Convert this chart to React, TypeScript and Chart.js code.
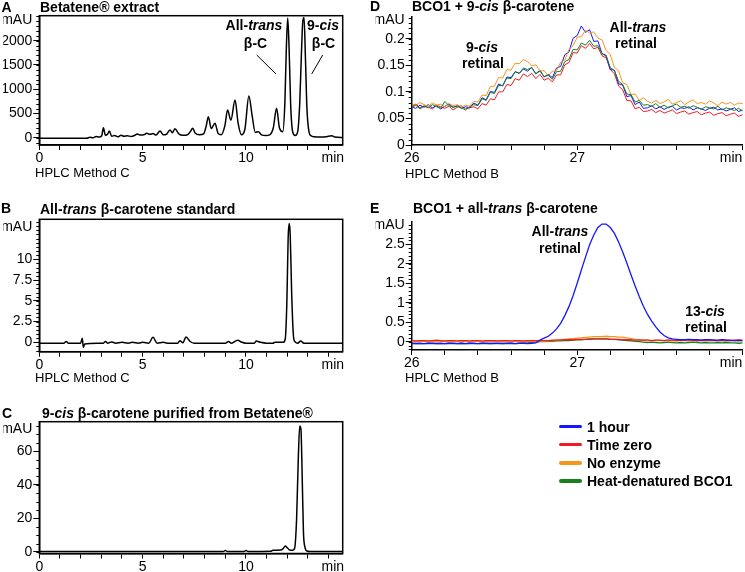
import React, { useEffect, useRef } from 'react';
import { Chart, registerables } from 'chart.js';

Chart.register(...registerables);

const FONT = 'Arial, "Liberation Sans", Helvetica, sans-serif';
const W = 745;
const H = 572;

// ---------- Panel A: Betatene extract (HPLC method C) ----------
const aTime = [
  0, 2.3, 2.45, 2.6, 2.75, 2.9, 3.02, 3.1, 3.2, 3.3,
  3.39, 3.5, 3.65, 3.8, 3.95, 4.1, 4.25, 4.45, 4.6, 4.74,
  4.9, 5.05, 5.2, 5.35, 5.5, 5.65, 5.84, 6.0, 6.15, 6.32,
  6.44, 6.56, 6.75, 6.95, 7.15, 7.3, 7.42, 7.55, 7.75, 7.95,
  8.08, 8.18, 8.32, 8.5, 8.65, 8.8, 8.98, 9.11, 9.27, 9.47,
  9.62, 9.78, 9.95, 10.14, 10.3, 10.45, 10.6, 10.75, 10.95, 11.15,
  11.32, 11.48, 11.62, 11.78, 11.88, 11.95, 12.02, 12.09, 12.16, 12.26,
  12.38, 12.5, 12.6, 12.68, 12.75, 12.81, 12.88, 12.95, 13.05, 13.15,
  13.3, 13.6, 13.9, 14.05, 14.15, 14.3, 14.7,
];
const aSignal = [
  -10, -10, 10, 0, 25, 15, 40, 206, 50, 70,
  138, 30, 45, 20, 50, 30, 40, 25, 45, 75,
  55, 60, 90, 70, 85, 55, 140, 60, 70, 160,
  100, 185, 80, 50, 55, 120, 194, 90, 60, 80,
  250, 433, 190, 297, 90, 60, 250, 571, 360, 777,
  300, 60, 180, 860, 450, 110, 124, 60, 45, 60,
  200, 606, 200, 124, 700, 1800, 2470, 1800, 700, 120,
  45, 120, 700, 1700, 2400, 2480, 1600, 600, 120, 40,
  20, 15, 20, 35, 42, 15, 5,
];

// ---------- Panel B: all-trans beta-carotene standard ----------
const bTime = [
  0, 1.2, 1.3, 1.4, 2.0, 2.08, 2.13, 2.2, 3.1, 3.2,
  3.3, 3.5, 3.7, 4.0, 4.3, 4.5, 4.8, 5.0, 5.3, 5.5,
  5.7, 6.0, 6.2, 6.7, 6.8, 6.95, 7.1, 7.3, 7.5, 9.0,
  9.15, 9.3, 9.6, 9.8, 10.0, 10.4, 10.5, 10.7, 11.0, 11.3,
  11.4, 11.8, 11.9, 11.98, 12.04, 12.09, 12.14, 12.21, 12.29, 12.36,
  12.5, 12.65, 12.8, 14.7,
];
const bSignal = [
  -0.1, -0.1, 0.1, -0.1, -0.1, 0.5, -0.6, -0.2, -0.1, 0.1,
  -0.1, 0.05, -0.1, 0.0, -0.1, 0.0, -0.1, 0.0, -0.1, 0.6,
  -0.1, 0.0, -0.1, -0.1, 0.2, -0.05, 0.65, 0.1, -0.1, -0.1,
  0.1, -0.1, 0.25, 0.0, -0.1, -0.1, 0.15, 0.0, -0.1, -0.1,
  0.0, 0.0, 0.4, 5.0, 12.5, 14.3, 13.0, 6.0, 1.0, 0.1,
  -0.1, 0.15, -0.1, -0.1,
];

// ---------- Panel C: 9-cis beta-carotene purified ----------
const cTime = [
  0, 8.9, 9.0, 9.1, 9.9, 10.0, 10.1, 11.2, 11.3, 11.7,
  11.8, 11.9, 12.0, 12.1, 12.25, 12.35, 12.45, 12.53, 12.6, 12.66,
  12.72, 12.78, 12.85, 12.95, 13.1, 14.7,
];
const cSignal = [
  0.3, 0.3, 0.9, 0.3, 0.3, 0.9, 0.3, 0.4, 1.0, 1.2,
  2.0, 3.5, 2.5, 1.3, 1.0, 2.0, 20, 55, 75, 73,
  45, 12, 3, 0.6, 0.3, 0.3,
];

// ---------- Panel D: BCO1 + 9-cis beta-carotene (HPLC method B) ----------
const dTime = [
  26, 26.025, 26.05, 26.075, 26.1, 26.125, 26.15, 26.175, 26.2, 26.225,
  26.25, 26.275, 26.3, 26.325, 26.35, 26.375, 26.4, 26.425, 26.45, 26.475,
  26.5, 26.525, 26.55, 26.575, 26.6, 26.625, 26.65, 26.675, 26.7, 26.725,
  26.75, 26.775, 26.8, 26.825, 26.85, 26.875, 26.9, 26.925, 26.95, 26.975,
  27, 27.025, 27.05, 27.075, 27.1, 27.125, 27.15, 27.175, 27.2, 27.225,
  27.25, 27.275, 27.3, 27.325, 27.35, 27.375, 27.4, 27.425, 27.45, 27.475,
  27.5, 27.525, 27.55, 27.575, 27.6, 27.625, 27.65, 27.675, 27.7, 27.725,
  27.75, 27.775, 27.8, 27.825, 27.85, 27.875, 27.9, 27.925, 27.95, 27.975,
  28,
];
const dOneHour = [
  0.072, 0.069, 0.075, 0.071, 0.076, 0.070, 0.074, 0.068, 0.073, 0.077,
  0.071, 0.074, 0.069, 0.072, 0.070, 0.079, 0.075, 0.089, 0.085, 0.101,
  0.099, 0.115, 0.111, 0.128, 0.127, 0.138, 0.135, 0.143, 0.139, 0.146,
  0.134, 0.141, 0.128, 0.133, 0.127, 0.145, 0.148, 0.170, 0.175, 0.201,
  0.206, 0.224, 0.212, 0.217, 0.195, 0.196, 0.172, 0.169, 0.142, 0.141,
  0.115, 0.113, 0.091, 0.093, 0.076, 0.081, 0.069, 0.070, 0.074, 0.068,
  0.072, 0.067, 0.071, 0.073, 0.066, 0.070, 0.069, 0.072, 0.066, 0.070,
  0.068, 0.065, 0.069, 0.071, 0.066, 0.068, 0.064, 0.067, 0.070, 0.063,
  0.066,
];
const dTimeZero = [
  0.073, 0.077, 0.070, 0.074, 0.071, 0.068, 0.075, 0.072, 0.069, 0.073,
  0.066, 0.071, 0.074, 0.068, 0.070, 0.072, 0.068, 0.078, 0.075, 0.087,
  0.085, 0.100, 0.100, 0.114, 0.112, 0.125, 0.122, 0.134, 0.129, 0.135,
  0.125, 0.133, 0.122, 0.126, 0.119, 0.132, 0.132, 0.151, 0.155, 0.174,
  0.173, 0.187, 0.182, 0.191, 0.181, 0.184, 0.168, 0.164, 0.142, 0.134,
  0.111, 0.104, 0.084, 0.083, 0.068, 0.071, 0.063, 0.064, 0.067, 0.061,
  0.065, 0.060, 0.063, 0.066, 0.059, 0.062, 0.064, 0.058, 0.061, 0.063,
  0.057, 0.060, 0.062, 0.056, 0.059, 0.061, 0.055, 0.058, 0.060, 0.054,
  0.057,
];
const dNoEnzyme = [
  0.078, 0.074, 0.080, 0.076, 0.073, 0.079, 0.075, 0.077, 0.072, 0.078,
  0.074, 0.076, 0.071, 0.075, 0.073, 0.082, 0.081, 0.094, 0.093, 0.110,
  0.111, 0.127, 0.126, 0.142, 0.141, 0.154, 0.153, 0.161, 0.157, 0.149,
  0.151, 0.139, 0.140, 0.130, 0.139, 0.140, 0.156, 0.160, 0.180, 0.187,
  0.203, 0.204, 0.216, 0.211, 0.213, 0.201, 0.198, 0.178, 0.170, 0.146,
  0.140, 0.117, 0.114, 0.095, 0.096, 0.084, 0.089, 0.082, 0.079, 0.084,
  0.078, 0.081, 0.086, 0.077, 0.080, 0.083, 0.076, 0.081, 0.085, 0.078,
  0.080, 0.077, 0.083, 0.079, 0.074, 0.081, 0.077, 0.080, 0.075, 0.079,
  0.078,
];
const dHeat = [
  0.071, 0.075, 0.068, 0.073, 0.070, 0.076, 0.072, 0.069, 0.082, 0.074,
  0.071, 0.073, 0.070, 0.066, 0.072, 0.076, 0.074, 0.087, 0.084, 0.099,
  0.097, 0.112, 0.112, 0.126, 0.125, 0.138, 0.135, 0.145, 0.142, 0.146,
  0.134, 0.139, 0.129, 0.131, 0.124, 0.138, 0.139, 0.157, 0.161, 0.180,
  0.179, 0.192, 0.188, 0.197, 0.186, 0.187, 0.172, 0.167, 0.146, 0.140,
  0.120, 0.114, 0.096, 0.095, 0.081, 0.084, 0.075, 0.076, 0.073, 0.078,
  0.071, 0.075, 0.070, 0.074, 0.077, 0.071, 0.073, 0.069, 0.074, 0.071,
  0.067, 0.072, 0.070, 0.068, 0.073, 0.066, 0.070, 0.068, 0.065, 0.069,
  0.064,
];

// ---------- Panel E: BCO1 + all-trans beta-carotene ----------
const eTime = dTime;
const eOneHour = [
  -0.04, -0.05, -0.04, -0.05, -0.04, -0.04, -0.05, -0.04, -0.05, -0.04,
  -0.04, -0.05, -0.04, -0.05, -0.04, -0.04, -0.05, -0.04, -0.04, -0.05,
  -0.04, -0.04, -0.05, -0.04, -0.04, -0.05, -0.04, -0.04, -0.05, -0.04,
  -0.03, 0.04, 0.09, 0.14, 0.22, 0.33, 0.47, 0.67, 0.90, 1.18,
  1.50, 1.84, 2.17, 2.49, 2.74, 2.93, 3.02, 3.02, 2.93, 2.78,
  2.56, 2.30, 2.02, 1.72, 1.43, 1.16, 0.91, 0.70, 0.53, 0.38,
  0.25, 0.16, 0.10, 0.07, 0.06, 0.05, 0.05, 0.06, 0.05, 0.05,
  0.04, 0.05, 0.05, 0.04, 0.04, 0.05, 0.04, 0.04, 0.03, 0.04,
  0.03,
];
const eTimeZero = [
  0.03, 0.02, 0.03, 0.03, 0.02, 0.03, 0.04, 0.03, 0.02, 0.03,
  0.03, 0.02, 0.03, 0.03, 0.02, 0.03, 0.03, 0.02, 0.03, 0.03,
  0.03, 0.02, 0.03, 0.03, 0.02, 0.03, 0.03, 0.02, 0.03, 0.03,
  0.03, 0.03, 0.03, 0.03, 0.04, 0.04, 0.04, 0.05, 0.05, 0.05,
  0.06, 0.06, 0.06, 0.07, 0.07, 0.07, 0.07, 0.07, 0.06, 0.06,
  0.06, 0.05, 0.05, 0.05, 0.04, 0.04, 0.04, 0.04, 0.03, 0.04,
  0.04, 0.03, 0.04, 0.04, 0.03, 0.04, 0.05, 0.04, 0.04, 0.03,
  0.04, 0.05, 0.04, 0.04, 0.03, 0.04, 0.04, 0.03, 0.04, 0.04,
  0.04,
];
const eNoEnzyme = [
  0.01, 0.00, 0.01, 0.01, 0.00, 0.01, 0.00, 0.01, 0.01, 0.00,
  0.01, 0.00, 0.01, 0.01, 0.00, 0.01, 0.01, 0.00, 0.01, 0.00,
  0.01, 0.01, 0.00, 0.01, 0.00, 0.01, 0.01, 0.00, 0.01, 0.01,
  0.00, 0.01, 0.01, 0.02, 0.03, 0.04, 0.05, 0.06, 0.07, 0.08,
  0.09, 0.10, 0.11, 0.12, 0.13, 0.13, 0.13, 0.14, 0.13, 0.13,
  0.12, 0.12, 0.10, 0.08, 0.06, 0.05, 0.04, 0.04, 0.03, 0.04,
  0.03, 0.03, 0.04, 0.03, 0.02, 0.03, 0.03, 0.02, 0.03, 0.02,
  0.03, 0.02, 0.02, 0.03, 0.02, 0.02, 0.01, 0.02, 0.02, 0.01,
  0.02,
];
const eHeat = [
  -0.05, -0.04, -0.05, -0.05, -0.04, -0.05, -0.04, -0.05, -0.05, -0.04,
  -0.05, -0.05, -0.04, -0.05, -0.04, -0.05, -0.05, -0.04, -0.05, -0.04,
  -0.05, -0.05, -0.04, -0.05, -0.04, -0.05, -0.04, -0.03, -0.03, -0.02,
  -0.01, 0.00, 0.00, 0.01, 0.01, 0.02, 0.02, 0.03, 0.03, 0.04,
  0.05, 0.05, 0.06, 0.06, 0.07, 0.07, 0.07, 0.07, 0.06, 0.06,
  0.05, 0.04, 0.03, 0.02, 0.01, 0.00, -0.01, -0.02, -0.01, -0.02,
  -0.03, -0.02, -0.01, -0.02, -0.03, -0.02, -0.03, -0.02, -0.01, -0.02,
  -0.03, -0.02, -0.03, -0.03, -0.02, -0.03, -0.02, -0.03, -0.03, -0.04,
  -0.03,
];

// ---------- Axis ticks ----------
const abcXTicks = [0, 1, 2, 3, 4, 5, 6, 7, 8, 9, 10, 11, 12, 13, 14];
const abcXLabeled = [0, 5, 10];
const deXTicks = [26, 26.2, 26.4, 26.6, 26.8, 27, 27.2, 27.4, 27.6, 27.8, 28];
const deXLabeled = [26, 27];

const aYTicks = [0, 500, 1000, 1500, 2000];
const aYLabels = ['0', '500', '1000', '1500', '2000'];
const bYTicks = [0, 2.5, 5, 7.5, 10];
const bYLabels = ['0', '2.5', '5', '7.5', '10'];
const cYTicks = [0, 20, 40, 60];
const cYLabels = ['0', '20', '40', '60'];
const dYTicks = [0, 0.05, 0.1, 0.15, 0.2];
const dYLabels = ['0', '0.05', '0.1', '0.15', '0.2'];
const eYTicks = [0, 0.5, 1, 1.5, 2, 2.5];
const eYLabels = ['0', '0.5', '1', '1.5', '2', '2.5'];

const COLORS = {
  oneHour: '#1616ff',
  timeZero: '#ee1c24',
  noEnzyme: '#f7941d',
  heat: '#18801c',
};

type Series = { x: number[]; y: number[]; color: string; width: number; smooth: boolean };
type Panel = {
  rect: [number, number, number, number];
  series: Series[];
  xMin: number; xMax: number; xTicks: number[]; xLabeled: number[]; xUnitPos: number;
  yMin: number; yMax: number; yTicks: number[]; yLabels: string[]; yUnitPos: number; yMinorStep: number;
  box: boolean;
};

const Y_AXIS_W = 36;
const X_AXIS_H = 20;
const near = (a: number, b: number) => Math.abs(a - b) < 1e-6;

const decorPlugin = {
  id: 'panelDecor',
  afterDraw(chart: any, _args: any, opts: any) {
    const { ctx, chartArea, scales } = chart;
    ctx.save();
    ctx.strokeStyle = '#000';
    ctx.lineWidth = 1;
    const y = scales.y;
    if (opts.yMinorStep) {
      const st = opts.yMinorStep;
      const s = Math.ceil(y.min / st - 1e-9);
      const e = Math.floor(y.max / st + 1e-9);
      for (let k = s; k <= e; k++) {
        const py = Math.round(y.getPixelForValue(k * st)) + 0.5;
        ctx.beginPath();
        ctx.moveTo(chartArea.left - 3, py);
        ctx.lineTo(chartArea.left, py);
        ctx.stroke();
      }
    }
    if (opts.box) {
      ctx.lineWidth = 1.5;
      ctx.strokeRect(chartArea.left, chartArea.top, chartArea.right - chartArea.left, chartArea.bottom - chartArea.top);
    }
    ctx.restore();
  },
};

function buildConfig(p: Panel): any {
  const [L, T, R, B] = p.rect;
  const tickFont = { family: FONT, size: 14 };
  return {
    type: 'line',
    data: {
      datasets: p.series.map((s) => ({
        data: s.x.map((t, i) => ({ x: t, y: s.y[i] })),
        borderColor: s.color,
        borderWidth: s.width,
        pointRadius: 0,
        fill: false,
        tension: 0,
        cubicInterpolationMode: s.smooth ? 'monotone' : 'default',
      })),
    },
    options: {
      responsive: false,
      animation: false,
      events: [],
      layout: { padding: { left: L - Y_AXIS_W, top: T, right: W - R, bottom: H - B - X_AXIS_H } },
      plugins: {
        legend: { display: false },
        tooltip: { enabled: false },
        panelDecor: { yMinorStep: p.yMinorStep, box: p.box },
      },
      scales: {
        x: {
          type: 'linear',
          min: p.xMin,
          max: p.xMax,
          afterBuildTicks: (s: any) => {
            s.ticks = [...p.xTicks, p.xUnitPos].map((v) => ({ value: v }));
          },
          afterFit: (s: any) => { s.height = X_AXIS_H; },
          ticks: {
            autoSkip: false,
            maxRotation: 0,
            padding: 0,
            color: '#000',
            font: tickFont,
            callback: (v: number) =>
              near(v, p.xUnitPos) ? 'min' : p.xLabeled.some((l) => near(l, v)) ? String(Math.round(v)) : '',
          },
          grid: {
            display: true,
            drawOnChartArea: false,
            drawTicks: true,
            tickLength: 5,
            tickWidth: 1,
            tickColor: (c: any) => (c.tick && near(c.tick.value, p.xUnitPos) ? 'rgba(0,0,0,0)' : '#000'),
          },
          border: { display: true, color: '#000', width: 1.5 },
        },
        y: {
          type: 'linear',
          min: p.yMin,
          max: p.yMax,
          afterBuildTicks: (s: any) => {
            s.ticks = [...p.yTicks, p.yUnitPos].map((v) => ({ value: v }));
          },
          afterFit: (s: any) => { s.width = Y_AXIS_W; },
          ticks: {
            autoSkip: false,
            padding: 1,
            color: '#000',
            font: tickFont,
            callback: (v: number) => {
              if (near(v, p.yUnitPos)) return 'mAU';
              const i = p.yTicks.findIndex((t) => near(t, v));
              return i >= 0 ? p.yLabels[i] : '';
            },
          },
          grid: {
            display: true,
            drawOnChartArea: false,
            drawTicks: true,
            tickLength: 6,
            tickWidth: 1,
            tickColor: (c: any) => (c.tick && near(c.tick.value, p.yUnitPos) ? 'rgba(0,0,0,0)' : '#000'),
          },
          border: { display: true, color: '#000', width: 1.5 },
        },
      },
    },
    plugins: [decorPlugin],
  };
}

const panels: Panel[] = [
  {
    rect: [39.3, 15.7, 342.7, 145],
    series: [{ x: aTime, y: aSignal, color: '#000', width: 1.5, smooth: true }],
    xMin: 0, xMax: 14.68, xTicks: abcXTicks, xLabeled: abcXLabeled, xUnitPos: 14.2,
    yMin: -150, yMax: 2515, yTicks: aYTicks, yLabels: aYLabels, yUnitPos: 2427, yMinorStep: 100,
    box: true,
  },
  {
    rect: [39.3, 219.3, 342.7, 351.7],
    series: [{ x: bTime, y: bSignal, color: '#000', width: 1.5, smooth: true }],
    xMin: 0, xMax: 14.68, xTicks: abcXTicks, xLabeled: abcXLabeled, xUnitPos: 14.2,
    yMin: -1.13, yMax: 14.82, yTicks: bYTicks, yLabels: bYLabels, yUnitPos: 13.9, yMinorStep: 0.5,
    box: true,
  },
  {
    rect: [39.3, 421.7, 342.7, 553.5],
    series: [{ x: cTime, y: cSignal, color: '#000', width: 1.5, smooth: true }],
    xMin: 0, xMax: 14.68, xTicks: abcXTicks, xLabeled: abcXLabeled, xUnitPos: 14.2,
    yMin: -0.9, yMax: 77.6, yTicks: cYTicks, yLabels: cYLabels, yUnitPos: 73, yMinorStep: 5,
    box: true,
  },
  {
    rect: [411.7, 17, 742.7, 145],
    series: [
      { x: dTime, y: dHeat, color: COLORS.heat, width: 1, smooth: false },
      { x: dTime, y: dNoEnzyme, color: COLORS.noEnzyme, width: 1, smooth: false },
      { x: dTime, y: dOneHour, color: COLORS.oneHour, width: 1, smooth: false },
      { x: dTime, y: dTimeZero, color: COLORS.timeZero, width: 1, smooth: false },
    ],
    xMin: 26, xMax: 28, xTicks: deXTicks, xLabeled: deXLabeled, xUnitPos: 27.93,
    yMin: 0, yMax: 0.241, yTicks: dYTicks, yLabels: dYLabels, yUnitPos: 0.2345, yMinorStep: 0.01,
    box: false,
  },
  {
    rect: [411.7, 221.7, 742.7, 350],
    series: [
      { x: eTime, y: eOneHour, color: COLORS.oneHour, width: 1.3, smooth: false },
      { x: eTime, y: eTimeZero, color: COLORS.timeZero, width: 1.3, smooth: false },
      { x: eTime, y: eNoEnzyme, color: COLORS.noEnzyme, width: 1.3, smooth: false },
      { x: eTime, y: eHeat, color: COLORS.heat, width: 1.3, smooth: false },
    ],
    xMin: 26, xMax: 28, xTicks: deXTicks, xLabeled: deXLabeled, xUnitPos: 27.93,
    yMin: -0.213, yMax: 3.08, yTicks: eYTicks, yLabels: eYLabels, yUnitPos: 3.0, yMinorStep: 0.1,
    box: false,
  },
];

const legendItems = [
  { label: '1 hour', color: COLORS.oneHour },
  { label: 'Time zero', color: COLORS.timeZero },
  { label: 'No enzyme', color: COLORS.noEnzyme },
  { label: 'Heat-denatured BCO1', color: COLORS.heat },
];

function Txt(props: { x: number; y: number; center?: boolean; bold?: boolean; size?: number; children: any }) {
  const { x, y, center, bold = true, size = 14, children } = props;
  return (
    <div
      style={{
        position: 'absolute',
        left: x,
        top: y,
        transform: center ? 'translate(-50%, -50%)' : 'translateY(-50%)',
        font: `${bold ? 'bold ' : ''}${size}px ${FONT}`,
        lineHeight: 1,
        whiteSpace: 'nowrap',
        color: '#000',
        textAlign: center ? 'center' : 'left',
      }}
    >
      {children}
    </div>
  );
}

export default function App() {
  const refs = useRef<(HTMLCanvasElement | null)[]>([]);

  useEffect(() => {
    const charts = panels.map((p, i) => new Chart(refs.current[i] as HTMLCanvasElement, buildConfig(p)));
    return () => charts.forEach((c) => c.destroy());
  }, []);

  const I = (t: string) => <i>{t}</i>;

  return (
    <div style={{ position: 'absolute', left: 0, top: 0, width: W, height: H, background: '#fff', overflow: 'hidden' }}>
      {panels.map((_, i) => (
        <canvas
          key={i}
          ref={(el) => { refs.current[i] = el; }}
          width={W}
          height={H}
          style={{ position: 'absolute', left: 0, top: 0, width: W, height: H }}
        />
      ))}

      <svg width={W} height={H} style={{ position: 'absolute', left: 0, top: 0 }}>
        <line x1={256.7} y1={55} x2={276} y2={74} stroke="#000" strokeWidth={1} />
        <line x1={322.7} y1={55} x2={311.7} y2={74} stroke="#000" strokeWidth={1} />
      </svg>

      {/* Panel A */}
      <Txt x={1.5} y={7}>A</Txt>
      <Txt x={40} y={7}>Betatene® extract</Txt>
      <Txt x={254} y={25} center>All-{I('trans')}</Txt>
      <Txt x={255.5} y={43.3} center>β-C</Txt>
      <Txt x={323} y={25} center>9-{I('cis')}</Txt>
      <Txt x={323.5} y={43.3} center>β-C</Txt>
      <Txt x={35} y={171.7} bold={false} size={13}>HPLC Method C</Txt>

      {/* Panel B */}
      <Txt x={1} y={208}>B</Txt>
      <Txt x={40} y={209.3}>All-{I('trans')} β-carotene standard</Txt>
      <Txt x={35} y={377} bold={false} size={13}>HPLC Method C</Txt>

      {/* Panel C */}
      <Txt x={2} y={413.3}>C</Txt>
      <Txt x={42} y={412.7}>9-{I('cis')} β-carotene purified from Betatene®</Txt>

      {/* Panel D */}
      <Txt x={370} y={6}>D</Txt>
      <Txt x={412} y={6}>BCO1 + 9-{I('cis')} β-carotene</Txt>
      <Txt x={482} y={46.7} center>9-{I('cis')}</Txt>
      <Txt x={483} y={63.3} center>retinal</Txt>
      <Txt x={638} y={26.7} center>All-{I('trans')}</Txt>
      <Txt x={636} y={43.3} center>retinal</Txt>
      <Txt x={405} y={172.7} bold={false} size={13}>HPLC Method B</Txt>

      {/* Panel E */}
      <Txt x={370} y={208.3}>E</Txt>
      <Txt x={413} y={208.3}>BCO1 + all-{I('trans')} β-carotene</Txt>
      <Txt x={560} y={231} center>All-{I('trans')}</Txt>
      <Txt x={560} y={248.3} center>retinal</Txt>
      <Txt x={705} y={310.7} center>13-{I('cis')}</Txt>
      <Txt x={706} y={326.7} center>retinal</Txt>
      <Txt x={405} y={377} bold={false} size={13}>HPLC Method B</Txt>

      {/* Legend */}
      {legendItems.map((it, i) => {
        const cy = 426.6 + i * 18.1;
        return (
          <React.Fragment key={it.label}>
            <div
              style={{
                position: 'absolute',
                left: 558.5,
                top: cy - 1.75,
                width: 23.5,
                height: 3.5,
                borderRadius: 2,
                background: it.color,
              }}
            />
            <Txt x={587} y={cy}>{it.label}</Txt>
          </React.Fragment>
        );
      })}
    </div>
  );
}
